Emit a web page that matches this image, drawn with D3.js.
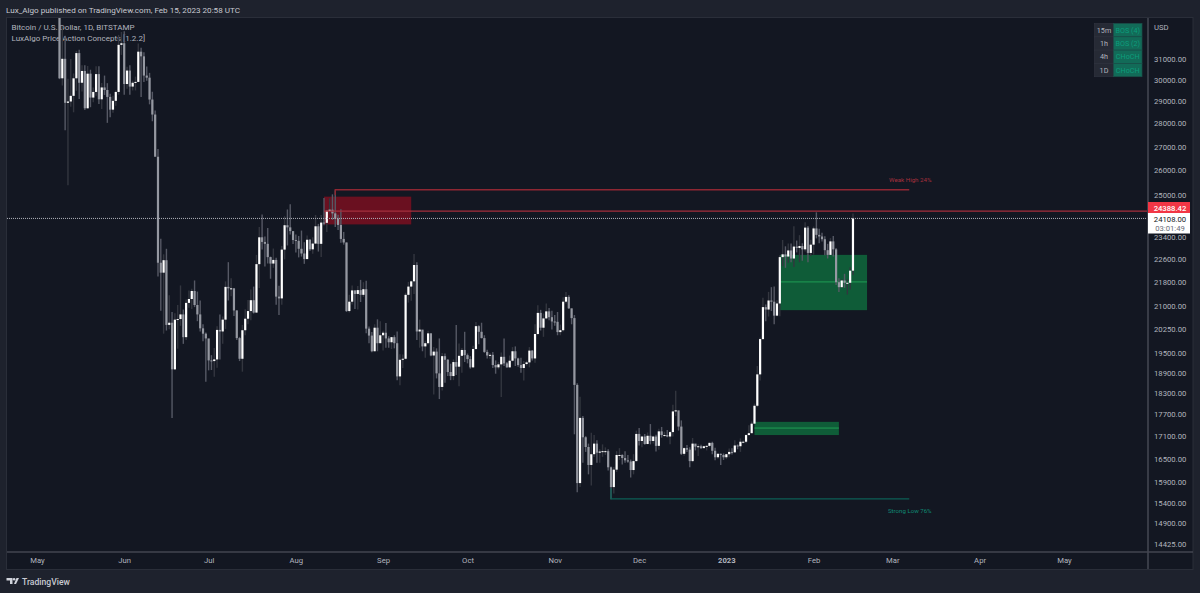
<!DOCTYPE html>
<html>
<head>
<meta charset="utf-8">
<title>Bitcoin / U.S. Dollar, 1D</title>
<script src="https://cdn.jsdelivr.net/npm/d3@7"></script>
<style>
  html, body { margin: 0; padding: 0; background: #1e222d; }
  svg { display: block; }
  text { font-family: Roboto, "Noto Sans", sans-serif; }
  .domain { display: none; }
  .tick line { display: none; }
</style>
</head>
<body>
<div id="chart"></div>
<script>
// daily candles, first one is 9 May 2022, one row per month
var firstDay = "2022-05-09";

var opens = [
  34060,30070,31010,28930,28990,29250,30070,31290,29860,30420,28680,30290,29170,29430,30270,29090,29640,29520,29200,28620,29020,29430,31700,
  31780,29800,30440,29680,29860,29900,31360,31130,30200,30100,29080,28400,26570,22480,22130,22570,20380,20450,19000,20550,20570,20720,19990,21100,21230,21500,21030,20720,20270,20100,
  19950,19270,19250,19300,20220,20170,20550,21640,21590,21590,20850,19960,19320,20210,20580,20830,21190,20780,22430,23400,23230,23160,22680,22450,22580,21310,21250,22950,23850,23770,23630,
  23300,23270,22980,22810,22610,23310,22960,23170,23810,23160,23950,23940,24400,24440,24300,24100,23860,23340,23210,20830,21140,21520,21400,21530,21370,21560,20260,20040,19550,20290,19800,
  20050,20130,19950,19830,19990,19800,18790,19290,19320,21370,21650,21830,22400,20170,20230,19700,19800,20110,19420,19540,18880,18480,19400,19290,18920,18800,19220,19080,19410,19590,
  19430,19310,19060,19620,20340,20160,19960,19530,19420,19440,19130,19060,19150,19380,19180,19060,19260,19550,19330,19130,19040,19160,19210,19570,19330,20090,20770,20290,20590,20820,20630,
  20490,20480,20150,20210,21140,21300,20920,20600,18540,15880,17600,17070,16810,16340,16620,16900,16660,16690,16700,16700,16280,15780,16220,16600,16600,16520,16460,16430,16210,16440,
  17160,16970,17090,16890,17110,16970,17090,16840,17230,17130,17130,17090,17210,17780,17810,17360,16630,16780,16740,16440,16900,16820,16830,16780,16830,16840,16920,16710,16540,16630,16600,
  16540,16620,16680,16670,16850,16830,16950,16950,17130,17180,17440,17940,18850,19930,20960,20880,21180,21140,20680,21080,22680,22780,22700,22920,22630,23060,23010,23080,22960,23760,22830,
  23130,23730,23490,23430,23330,22930,22760,23250,22960,21800,21630,21860,21780,21780,22200
];
var highs = [
  34240,32650,32160,30050,31000,30300,31400,31450,30700,30700,30660,30480,29640,30650,30650,29850,30200,29840,29350,29250,29500,32200,32350,
  32390,30620,30690,29960,30150,31770,31550,31330,30640,30330,29440,28580,26900,23350,22780,22980,21360,20800,20760,21030,21690,20880,21210,21520,21580,21860,21480,21180,20400,20140,
  19600,19430,19650,20340,20720,20650,21830,22500,21940,21590,20860,20000,20380,20890,21200,21550,21650,22760,23780,24260,23430,23750,22700,22990,22660,21680,23080,24190,24450,24650,23500,
  23500,23450,23650,23220,23470,23340,23400,24240,23900,24240,24900,24450,24890,25040,25200,24250,24460,23600,23210,21370,21690,21520,21670,21880,21800,21850,20330,20150,20400,20560,20500,
  20190,20440,20020,20000,20050,20170,19460,19450,21440,21810,21860,22790,22500,20550,20200,19880,20190,20110,19680,19640,19950,19500,19480,19310,19170,19300,20380,19790,19650,20160,
  19480,19400,19720,20470,20370,20450,20050,19600,19500,19530,19270,19220,19510,19950,19220,19420,19680,19700,19350,19350,19250,19260,19680,19590,20400,21020,20870,20750,21080,20930,20840,
  20700,20800,20390,21290,21470,21360,20910,20700,18590,18200,17650,17100,16900,17190,17130,16990,16750,16880,16800,16750,16300,16290,16700,16780,16620,16700,16600,16480,16620,17250,
  17320,17110,17160,17200,17430,17110,17140,17300,17350,17220,17270,17240,17970,18370,17530,17530,16800,16860,16800,17050,16860,16880,16870,16840,16860,16930,16950,16790,16650,16640,16640,
  16630,16770,16780,16990,16880,17040,16980,17150,17400,17500,18000,19100,19980,21270,21050,21470,21630,21650,21190,22750,23300,23070,23170,23170,23810,23280,23480,23180,23960,23820,23310,
  23800,24340,23720,23570,23440,23160,23370,23450,23010,21940,21900,22090,21900,22320,24300
];
var lows = [
  30030,29730,27700,25400,28750,28500,29480,29100,29450,28600,28670,28730,28950,29250,28880,28650,29290,28030,28280,28480,28800,29300,31200,
  29300,29580,29300,29500,29500,29880,29200,29900,29950,28860,28100,26650,22000,20840,20100,20200,20240,17600,18980,19630,20350,19780,19900,20940,20900,20960,20500,20170,19860,18630,
  18970,18980,18780,19050,19300,19780,20250,21180,21320,20670,19900,19250,18930,20050,20400,20530,20750,20770,21600,22950,22350,22450,21920,22300,21040,20700,21040,22600,23100,23500,23150,
  22850,22670,22700,22440,22600,22900,22800,23150,22880,22680,23850,23600,24300,24050,23780,23670,23200,23130,20800,20780,21050,20900,20880,21130,21300,20110,19800,19520,19550,19550,19830,
  19570,19660,19660,19620,19640,18680,18530,19040,19300,21110,21170,21400,19900,19660,19550,19350,19760,19400,18260,18730,18130,18380,18600,18800,18680,18680,18830,18500,18900,19220,
  19180,19020,19040,19600,19770,19950,19500,19330,19320,19040,18870,19000,18190,19100,19050,19050,19240,19100,19080,18900,18670,19110,19060,19270,19200,20050,20200,20000,20560,20530,20230,
  20350,20050,20050,20170,21080,20900,20400,17150,15650,15780,16400,16680,16100,15820,16550,16400,16400,16550,16600,16200,15480,15620,16160,16470,16350,16400,16400,16020,16100,16430,
  16850,16800,16870,16880,16880,16900,16690,16740,17060,17090,17070,16880,17090,17650,17250,16600,16580,16680,16280,16410,16720,16570,16760,16790,16720,16800,16620,16460,16500,16340,16470,
  16490,16540,16610,16650,16750,16680,16910,16910,17120,17320,17430,17900,18670,19900,20500,20650,20830,20400,20660,20660,22360,22300,22480,22500,22330,22850,22500,22550,22880,22500,22720,
  22770,23360,23180,23250,22750,22630,22750,22700,21700,21470,21600,21610,21380,21550,22050
];
var closes = [
  30070,31010,28930,28990,29250,30070,31290,29860,30420,28680,30290,29170,29430,30270,29090,29640,29520,29200,28620,29020,29430,31700,31780,
  29800,30440,29680,29860,29900,31360,31130,30200,30100,29080,28400,26570,22480,22130,22570,20380,20450,19000,20550,20570,20720,19990,21100,21230,21500,21030,20720,20270,20100,19950,
  19270,19250,19300,20220,20170,20550,21640,21590,21590,20850,19960,19320,20210,20580,20830,21190,20780,22430,23400,23230,23160,22680,22450,22580,21310,21250,22950,23850,23770,23630,23300,
  23270,22980,22810,22610,23310,22960,23170,23810,23160,23950,23940,24400,24440,24300,24100,23860,23340,23210,20830,21140,21520,21400,21530,21370,21560,20260,20040,19550,20290,19800,20050,
  20130,19950,19830,19990,19800,18790,19290,19320,21370,21650,21830,22400,20170,20230,19700,19800,20110,19420,19540,18880,18480,19400,19290,18920,18800,19220,19080,19410,19590,19430,
  19310,19060,19620,20340,20160,19960,19530,19420,19440,19130,19060,19150,19380,19180,19060,19260,19550,19330,19130,19040,19160,19210,19570,19330,20090,20770,20290,20590,20820,20630,20490,
  20480,20150,20210,21140,21300,20920,20600,18540,15880,17600,17070,16810,16340,16620,16900,16660,16690,16700,16700,16280,15780,16220,16600,16600,16520,16460,16430,16210,16440,17160,
  16970,17090,16890,17110,16970,17090,16840,17230,17130,17130,17090,17210,17780,17810,17360,16630,16780,16740,16440,16900,16820,16830,16780,16830,16840,16920,16710,16540,16630,16600,16540,
  16620,16680,16670,16850,16830,16950,16950,17130,17180,17440,17940,18850,19930,20960,20880,21180,21140,20680,21080,22680,22780,22700,22920,22630,23060,23010,23080,22960,23760,22830,23130,
  23730,23490,23430,23330,22930,22760,23250,22960,21800,21630,21860,21780,21780,22200,24108
];

// axis labels
var priceTicks = [31000,30000,29000,28000,27000,26000,25000,23400,22600,21800,21000,20250,19500,18900,18300,17700,17100,16500,15900,15400,14900,14425];
var timeTicks = ["2022-05-01","2022-06-01","2022-07-01","2022-08-01","2022-09-01","2022-10-01","2022-11-01","2022-12-01","2023-01-01","2023-02-01","2023-03-01","2023-04-01","2023-05-01"];
var timeLabels = ["May","Jun","Jul","Aug","Sep","Oct","Nov","Dec","2023","Feb","Mar","Apr","May"];

// order blocks: start, end, top, bottom
var zoneStarts = ["2022-08-11","2023-01-20","2023-01-11"];
var zoneEnds = ["2022-09-11","2023-02-20","2023-02-10"];
var zoneTops = [24950,22760,17490];
var zoneBottoms = [23880,20860,17130];
var zoneMids = [null,21810,17320];
var zoneColors = ["#6a1020","#0f5c38","#0f5c38"];

// swing levels
var lastPrice = 24108;
var highLevel = 24388.42;
var weakHigh = 25220;
var strongLow = 15490;
var weakHighStart = "2022-08-15";
var strongLowStart = "2022-11-21";
var levelEnd = "2023-03-07";
var highLevelStart = "2022-08-11";

// timeframe table
var tfNames = ["15m","1h","4h","1D"];
var tfStates = ["BOS (4)","BOS (2)","CHoCH","CHoCH"];

var width = 1200, height = 593;
var parseDay = d3.utcParse("%Y-%m-%d");
var days = d3.utcDay.range(parseDay(firstDay), d3.utcDay.offset(parseDay(firstDay), closes.length));

var svg = d3.select("#chart").append("svg").attr("width", width).attr("height", height);

// frame and panes
svg.append("rect").attr("width", width).attr("height", height).attr("fill", "#1e222d");
svg.append("rect").attr("x", 6.5).attr("y", 17.5).attr("width", 1186.5).attr("height", 552)
  .attr("fill", "#131722").attr("stroke", "#2a2e39");

svg.append("defs").append("clipPath").attr("id", "pane")
  .append("rect").attr("x", 7).attr("y", 18).attr("width", 1140).attr("height", 534);

// scales, the price scale is logarithmic
var x = d3.scaleUtc().domain([parseDay(timeTicks[0]), parseDay(timeTicks[12])]).range([37, 1064]);
var y = d3.scaleLog().domain([31000, 14425]).range([59, 544]);

// legend sits under the candles
var legend = svg.append("g").attr("fill", "#b2b5be").attr("font-size", 8);
legend.append("text").attr("x", 11.5).attr("y", 30).text("Bitcoin / U.S. Dollar, 1D, BITSTAMP");
legend.append("text").attr("x", 11.5).attr("y", 41).text("LuxAlgo Price Action Concepts [1.2.2]");

svg.append("text").attr("x", 6).attr("y", 12.5).attr("fill", "#c8cad1").attr("font-size", 8.1)
  .text("Lux_Algo published on TradingView.com, Feb 15, 2023 20:58 UTC");

var plot = svg.append("g").attr("clip-path", "url(#pane)");

// zones
var zoneIdx = d3.range(zoneStarts.length);
plot.selectAll(".zone").data(zoneIdx).join("rect").attr("class", "zone")
  .attr("x", i => x(parseDay(zoneStarts[i])))
  .attr("width", i => x(parseDay(zoneEnds[i])) - x(parseDay(zoneStarts[i])))
  .attr("y", i => y(zoneTops[i]))
  .attr("height", i => y(zoneBottoms[i]) - y(zoneTops[i]))
  .attr("fill", i => zoneColors[i]);
plot.selectAll(".mid").data(zoneIdx.filter(i => zoneMids[i] !== null)).join("line").attr("class", "mid")
  .attr("x1", i => x(parseDay(zoneStarts[i])))
  .attr("x2", i => x(parseDay(zoneEnds[i])))
  .attr("y1", i => y(zoneMids[i]))
  .attr("y2", i => y(zoneMids[i]))
  .attr("stroke", "#1f9e55");

// candles
var idx = d3.range(closes.length);
plot.selectAll(".wick").data(idx).join("line").attr("class", "wick")
  .attr("x1", i => x(days[i])).attr("x2", i => x(days[i]))
  .attr("y1", i => y(highs[i])).attr("y2", i => y(lows[i]))
  .attr("stroke", i => closes[i] >= opens[i] ? "#33363f" : "#565965")
  .attr("stroke-width", 1.4);
plot.selectAll(".body").data(idx).join("rect").attr("class", "body")
  .attr("x", i => x(days[i]) - 1.1)
  .attr("width", 2.2)
  .attr("y", i => y(Math.max(opens[i], closes[i])))
  .attr("height", i => Math.max(1, Math.abs(y(opens[i]) - y(closes[i]))))
  .attr("fill", i => closes[i] >= opens[i] ? "#ffffff" : "#9598a1");

// last price and swing levels
plot.append("line").attr("x1", 7).attr("x2", 1147).attr("y1", y(lastPrice)).attr("y2", y(lastPrice))
  .attr("stroke", "#b2b5be").attr("stroke-dasharray", "1 1").attr("stroke-width", 1);
plot.append("line").attr("x1", x(parseDay(highLevelStart))).attr("x2", 1147)
  .attr("y1", y(highLevel)).attr("y2", y(highLevel)).attr("stroke", "#a52f3c").attr("stroke-width", 1.3);
plot.append("path")
  .attr("d", "M" + x(parseDay(weakHighStart)) + "," + y(25000) + "V" + y(weakHigh) + "H" + x(parseDay(levelEnd)))
  .attr("fill", "none").attr("stroke", "#8f2733").attr("stroke-width", 1.4);
plot.append("path")
  .attr("d", "M" + x(parseDay(strongLowStart)) + "," + y(15750) + "V" + y(strongLow) + "H" + x(parseDay(levelEnd)))
  .attr("fill", "none").attr("stroke", "#0d5f55").attr("stroke-width", 1.3);
svg.append("text").attr("x", 889).attr("y", 182).attr("fill", "#a8303d").attr("font-size", 6.2).text("Weak High 24%");
svg.append("text").attr("x", 888).attr("y", 513).attr("fill", "#0f8a74").attr("font-size", 6.1).text("Strong Low 76%");

// timeframe table
var table = svg.append("g").attr("font-size", 7.2).attr("text-anchor", "middle");
var rowH = 13.3;
tfNames.forEach(function(name, i) {
  var top = 23.5 + i * rowH;
  table.append("rect").attr("x", 1094.5).attr("y", top).attr("width", 19).attr("height", rowH)
    .attr("fill", "#262a35").attr("stroke", "#2f333f").attr("stroke-width", 0.7);
  table.append("rect").attr("x", 1113.5).attr("y", top).attr("width", 28.5).attr("height", rowH)
    .attr("fill", "#126b58").attr("stroke", "#1a4f49").attr("stroke-width", 0.7);
  table.append("text").attr("x", 1104).attr("y", top + 9.3).attr("fill", "#b2b5be").text(name);
  table.append("text").attr("x", 1127.7).attr("y", top + 9.3).attr("fill", "#0c9d7c").text(tfStates[i]);
});

// axes
svg.append("line").attr("x1", 1148).attr("x2", 1148).attr("y1", 18).attr("y2", 569).attr("stroke", "#434651").attr("stroke-width", 1.6);
svg.append("line").attr("x1", 7).attr("x2", 1193).attr("y1", 552).attr("y2", 552).attr("stroke", "#434651").attr("stroke-width", 1.4);

var yAxis = d3.axisRight(y).tickValues(priceTicks).tickSize(0).tickPadding(0).tickFormat(d3.format(".2f"));
var yG = svg.append("g").attr("transform", "translate(1154,0)").call(yAxis);
yG.selectAll("text").attr("fill", "#b2b5be").attr("font-size", 7.7);
svg.append("text").attr("x", 1154).attr("y", 29.5).attr("fill", "#b2b5be").attr("font-size", 7.7).text("USD");

var xAxis = d3.axisBottom(x).tickValues(timeTicks.map(parseDay)).tickSize(0).tickPadding(0)
  .tickFormat((d, i) => timeLabels[i]);
var xG = svg.append("g").attr("transform", "translate(0,558)").call(xAxis);
xG.selectAll("text").attr("fill", "#b2b5be").attr("font-size", 7.7)
  .attr("font-weight", (d, i) => timeLabels[i] === "2023" ? "bold" : null);

// price labels
svg.append("rect").attr("x", 1148).attr("y", 202).attr("width", 42).attr("height", 11).attr("fill", "#f23645");
svg.append("text").attr("x", 1170).attr("y", 210.5).attr("text-anchor", "middle").attr("fill", "#ffffff")
  .attr("font-size", 7.7).attr("font-weight", "500").text(d3.format(".2f")(highLevel));
svg.append("rect").attr("x", 1148).attr("y", 213).attr("width", 42).attr("height", 20.5).attr("fill", "#ffffff");
svg.append("text").attr("x", 1170).attr("y", 221.5).attr("text-anchor", "middle").attr("fill", "#131722")
  .attr("font-size", 7.7).text(d3.format(".2f")(lastPrice));
svg.append("text").attr("x", 1170).attr("y", 231).attr("text-anchor", "middle").attr("fill", "#6a6d78")
  .attr("font-size", 7.7).text("03:01:49");

// footer logo
var logo = svg.append("g").attr("fill", "#d1d4dc").attr("transform", "translate(6.5,578)");
logo.append("path").attr("d", "M0,0H6V6H3.5V2.5H0Z");
logo.append("circle").attr("cx", 7.6).attr("cy", 1.3).attr("r", 1.3);
logo.append("path").attr("d", "M10,0H12.5L9.5,6H7.5Z");
svg.append("text").attr("x", 22).attr("y", 584.5).attr("fill", "#c8cad1").attr("font-size", 8.6).attr("font-weight", "500").text("TradingView");
</script>
</body>
</html>
